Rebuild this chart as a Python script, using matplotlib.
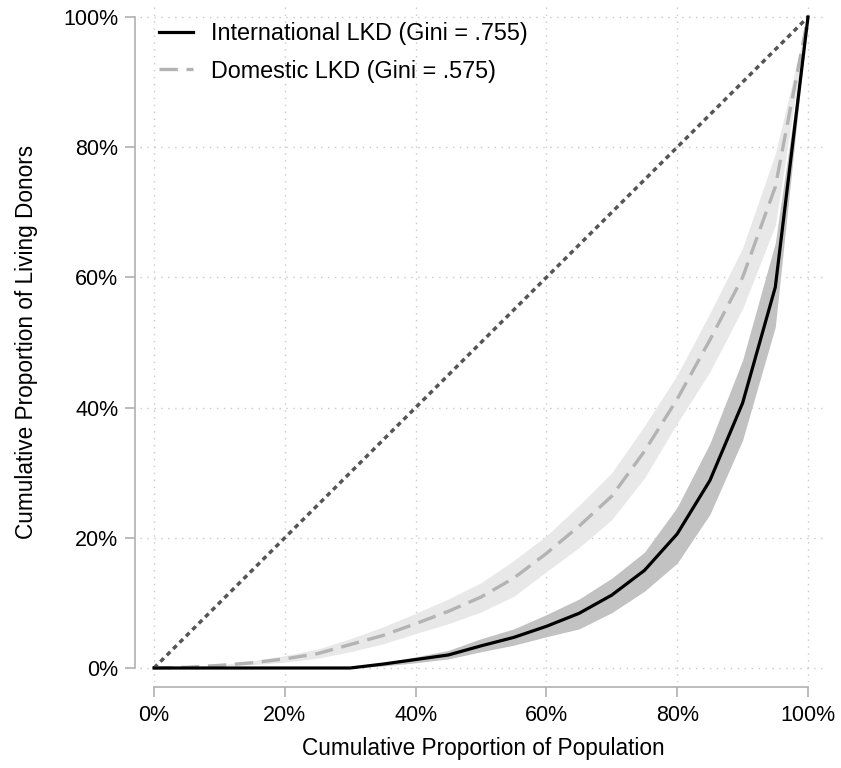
import numpy as np
import matplotlib.pyplot as plt
from matplotlib.ticker import PercentFormatter

plt.rcParams['font.family'] = ['Liberation Sans', 'DejaVu Sans']

# population share (x), 5% steps
pop = [0, .05, .10, .15, .20, .25, .30, .35, .40, .45, .50,
       .55, .60, .65, .70, .75, .80, .85, .90, .95, 1.0]

# International LKD
intl = [0, 0, 0, 0, 0, 0, 0, .006, .013, .020, .034,
        .047, .064, .084, .112, .150, .206, .288, .407, .585, 1.0]
intl_lo = [0, 0, 0, 0, 0, 0, 0, .003, .008, .014, .025,
           .035, .048, .060, .085, .118, .161, .236, .350, .524, 1.0]
intl_hi = [0, 0, 0, 0, 0, 0, 0, .008, .017, .027, .045,
           .060, .082, .106, .138, .178, .247, .345, .473, .653, 1.0]

# Domestic LKD
dom = [0, .001, .004, .008, .014, .022, .036, .050, .068, .087, .109,
       .138, .176, .218, .264, .333, .413, .504, .600, .739, 1.0]
dom_lo = [0, .001, .003, .005, .009, .015, .025, .037, .053, .068, .086,
          .110, .148, .185, .228, .292, .376, .455, .552, .680, 1.0]
dom_hi = [0, .001, .005, .011, .019, .029, .045, .063, .084, .106, .131,
          .165, .203, .250, .300, .372, .450, .545, .645, .790, 1.0]

labels = ['International LKD (Gini = .755)', 'Domestic LKD (Gini = .575)']

fig = plt.figure(figsize=(8.41, 7.68), dpi=100)
ax = fig.add_axes([140 / 841, 1 - 682 / 768, 687 / 841, 680 / 768])

ax.fill_between(pop, dom_lo, dom_hi, color='#e8e8e8', lw=0, zorder=1)
ax.fill_between(pop, intl_lo, intl_hi, color='#c2c2c2', lw=0, zorder=2)
ax.plot([0, 1], [0, 1], color='#555555', lw=2.5, ls=(0, (1.4, 1.2)), zorder=3)
ax.plot(pop, dom, color='#b3b3b3', lw=2.4, ls=(0, (5.5, 2.6)), zorder=4,
        label=labels[1])
ax.plot(pop, intl, color='black', lw=2.3, zorder=5, label=labels[0])

ax.set_xlim(-14 / 654, 1 + 19 / 654)
ax.set_ylim(-14 / 651, 1 + 15 / 651)

ticks = np.arange(0, 1.01, 0.2)
ax.set_xticks(ticks)
ax.set_yticks(ticks)
ax.xaxis.set_major_formatter(PercentFormatter(1.0, decimals=0))
ax.yaxis.set_major_formatter(PercentFormatter(1.0, decimals=0))
ax.grid(True, color='#c8c8c8', ls=(0, (1, 4)), lw=1.0, zorder=0)
ax.set_axisbelow(True)

for s in ['top', 'right']:
    ax.spines[s].set_visible(False)
for s in ['left', 'bottom']:
    ax.spines[s].set_position(('outward', 3.6))
    ax.spines[s].set_bounds(0, 1)
    ax.spines[s].set_color('#b0b0b0')
    ax.spines[s].set_linewidth(1.2)
ax.tick_params(axis='both', color='#b0b0b0', width=1.2, length=7,
               labelsize=15.5, labelcolor='black')
ax.tick_params(axis='x', pad=6)
ax.tick_params(axis='y', pad=5)

ax.set_xlabel('Cumulative Proportion of Population', fontsize=16.3, labelpad=8)
ax.set_ylabel('Cumulative Proportion of Living Donors', fontsize=16.3, labelpad=18)

h, l = ax.get_legend_handles_labels()
ax.legend(h[::-1], l[::-1], loc='upper left', frameon=False, fontsize=16.8,
          bbox_to_anchor=(19 / 687, 0.971), borderpad=0, borderaxespad=0,
          handlelength=1.46, handletextpad=0.77, labelspacing=0.64)

fig.savefig('out.png', dpi=100)
